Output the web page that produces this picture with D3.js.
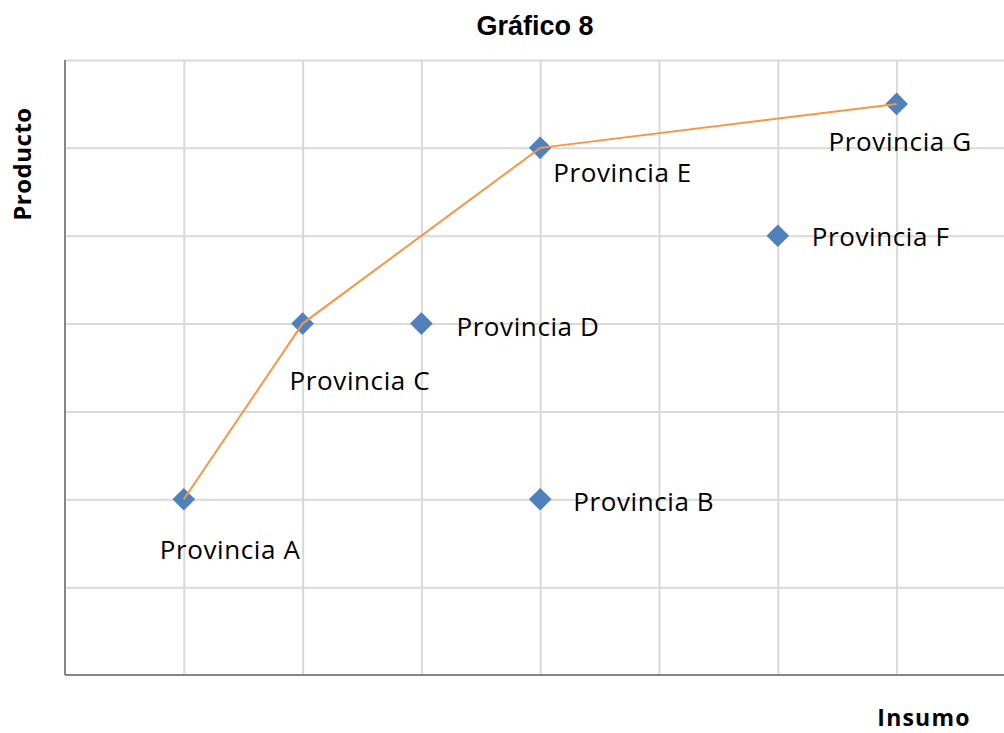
<!DOCTYPE html>
<html>
<head>
<meta charset="utf-8">
<script src="https://cdn.jsdelivr.net/npm/d3@7"></script>
<style>
  body { margin: 0; background: #fff; }
  svg { display: block; }
</style>
</head>
<body>
<div id="chart"></div>
<script>
// data
var provinces = ["Provincia A", "Provincia B", "Provincia C", "Provincia D", "Provincia E", "Provincia F", "Provincia G"];
var insumo    = [1, 4, 2, 3, 4, 6, 7];
var producto  = [2, 2, 4, 4, 6, 5, 6.5];
// efficient frontier drawn through A, C, E, G
var frontierX = [1, 2, 4, 7];
var frontierY = [2, 4, 6, 6.5];
var xTicks = [1, 2, 3, 4, 5, 6, 7];
var yTicks = [1, 2, 3, 4, 5, 6, 7];

// label placement (offset from point to text start / baseline)
var labelOffset = {
    "Provincia A": [-24, 60],
    "Provincia B": [33, 12],
    "Provincia C": [-13, 66],
    "Provincia D": [35, 12],
    "Provincia E": [13, 34],
    "Provincia F": [34, 10],
    "Provincia G": [-68, 47]
};

var w = 1004, h = 733;
var plotLeft = 65, plotTop = 60, plotBottom = 675;

var svg = d3.select("#chart").append("svg")
    .attr("width", w)
    .attr("height", h);

var x = d3.scaleLinear().domain([0, 8]).range([plotLeft, plotLeft + 8 * 118.8]);
var y = d3.scaleLinear().domain([0, 7]).range([plotBottom, plotTop]);

// gridlines
svg.append("g")
    .attr("transform", "translate(0," + plotBottom + ")")
    .call(d3.axisBottom(x).tickValues(xTicks).tickSize(-(plotBottom - plotTop)).tickFormat(""))
    .call(function (g) { g.select(".domain").remove(); })
    .selectAll("line")
    .attr("stroke", "#d9d9d9")
    .attr("stroke-width", 2);

svg.append("g")
    .attr("transform", "translate(" + plotLeft + ",0)")
    .call(d3.axisLeft(y).tickValues(yTicks).tickSize(-(w - plotLeft)).tickFormat(""))
    .call(function (g) { g.select(".domain").remove(); })
    .selectAll("line")
    .attr("stroke", "#d9d9d9")
    .attr("stroke-width", 2);

// axis lines
svg.append("line")
    .attr("x1", plotLeft).attr("x2", plotLeft)
    .attr("y1", plotTop).attr("y2", plotBottom)
    .attr("stroke", "#868686").attr("stroke-width", 2);
svg.append("line")
    .attr("x1", plotLeft).attr("x2", w)
    .attr("y1", plotBottom).attr("y2", plotBottom)
    .attr("stroke", "#868686").attr("stroke-width", 2);

var line = d3.line()
    .x(function (d) { return x(d[0]); })
    .y(function (d) { return y(d[1]); });

// points
var pts = provinces.map(function (p, i) {
    return { name: p, x: insumo[i], y: producto[i] };
});

svg.selectAll(".pt")
    .data(pts)
    .enter()
    .append("path")
    .attr("class", "pt")
    .attr("d", d3.symbol().type(d3.symbolSquare).size(256))
    .attr("transform", function (d) {
        return "translate(" + x(d.x) + "," + y(d.y) + ") rotate(45)";
    })
    .attr("fill", "#4f81bd");

// frontier line
svg.append("path")
    .datum(d3.zip(frontierX, frontierY))
    .attr("d", line)
    .attr("fill", "none")
    .attr("stroke", "#f79646")
    .attr("stroke-width", 2);

svg.selectAll(".lbl")
    .data(pts)
    .enter()
    .append("text")
    .attr("class", "lbl")
    .attr("x", function (d) { return x(d.x) + labelOffset[d.name][0]; })
    .attr("y", function (d) { return y(d.y) + labelOffset[d.name][1]; })
    .attr("font-family", "'Open Sans', sans-serif")
    .attr("font-size", "26px")
    .attr("letter-spacing", "0.6px")
    .attr("fill", "#000")
    .text(function (d) { return d.name; });

// titles
svg.append("text")
    .attr("x", 535).attr("y", 35)
    .attr("text-anchor", "middle")
    .attr("font-family", "'Liberation Sans', Arial, sans-serif")
    .attr("font-weight", "bold")
    .attr("font-size", "27px")
    .text("Gráfico 8");

svg.append("text")
    .attr("transform", "translate(31,164) rotate(-90)")
    .attr("text-anchor", "middle")
    .attr("font-family", "'Open Sans', sans-serif")
    .attr("font-weight", "bold")
    .attr("font-size", "24px")
    .attr("letter-spacing", "0.5px")
    .text("Producto");

svg.append("text")
    .attr("x", 924).attr("y", 726)
    .attr("text-anchor", "middle")
    .attr("font-family", "'Open Sans', sans-serif")
    .attr("font-weight", "bold")
    .attr("font-size", "23px")
    .attr("letter-spacing", "1.2px")
    .text("Insumo");
</script>
</body>
</html>
